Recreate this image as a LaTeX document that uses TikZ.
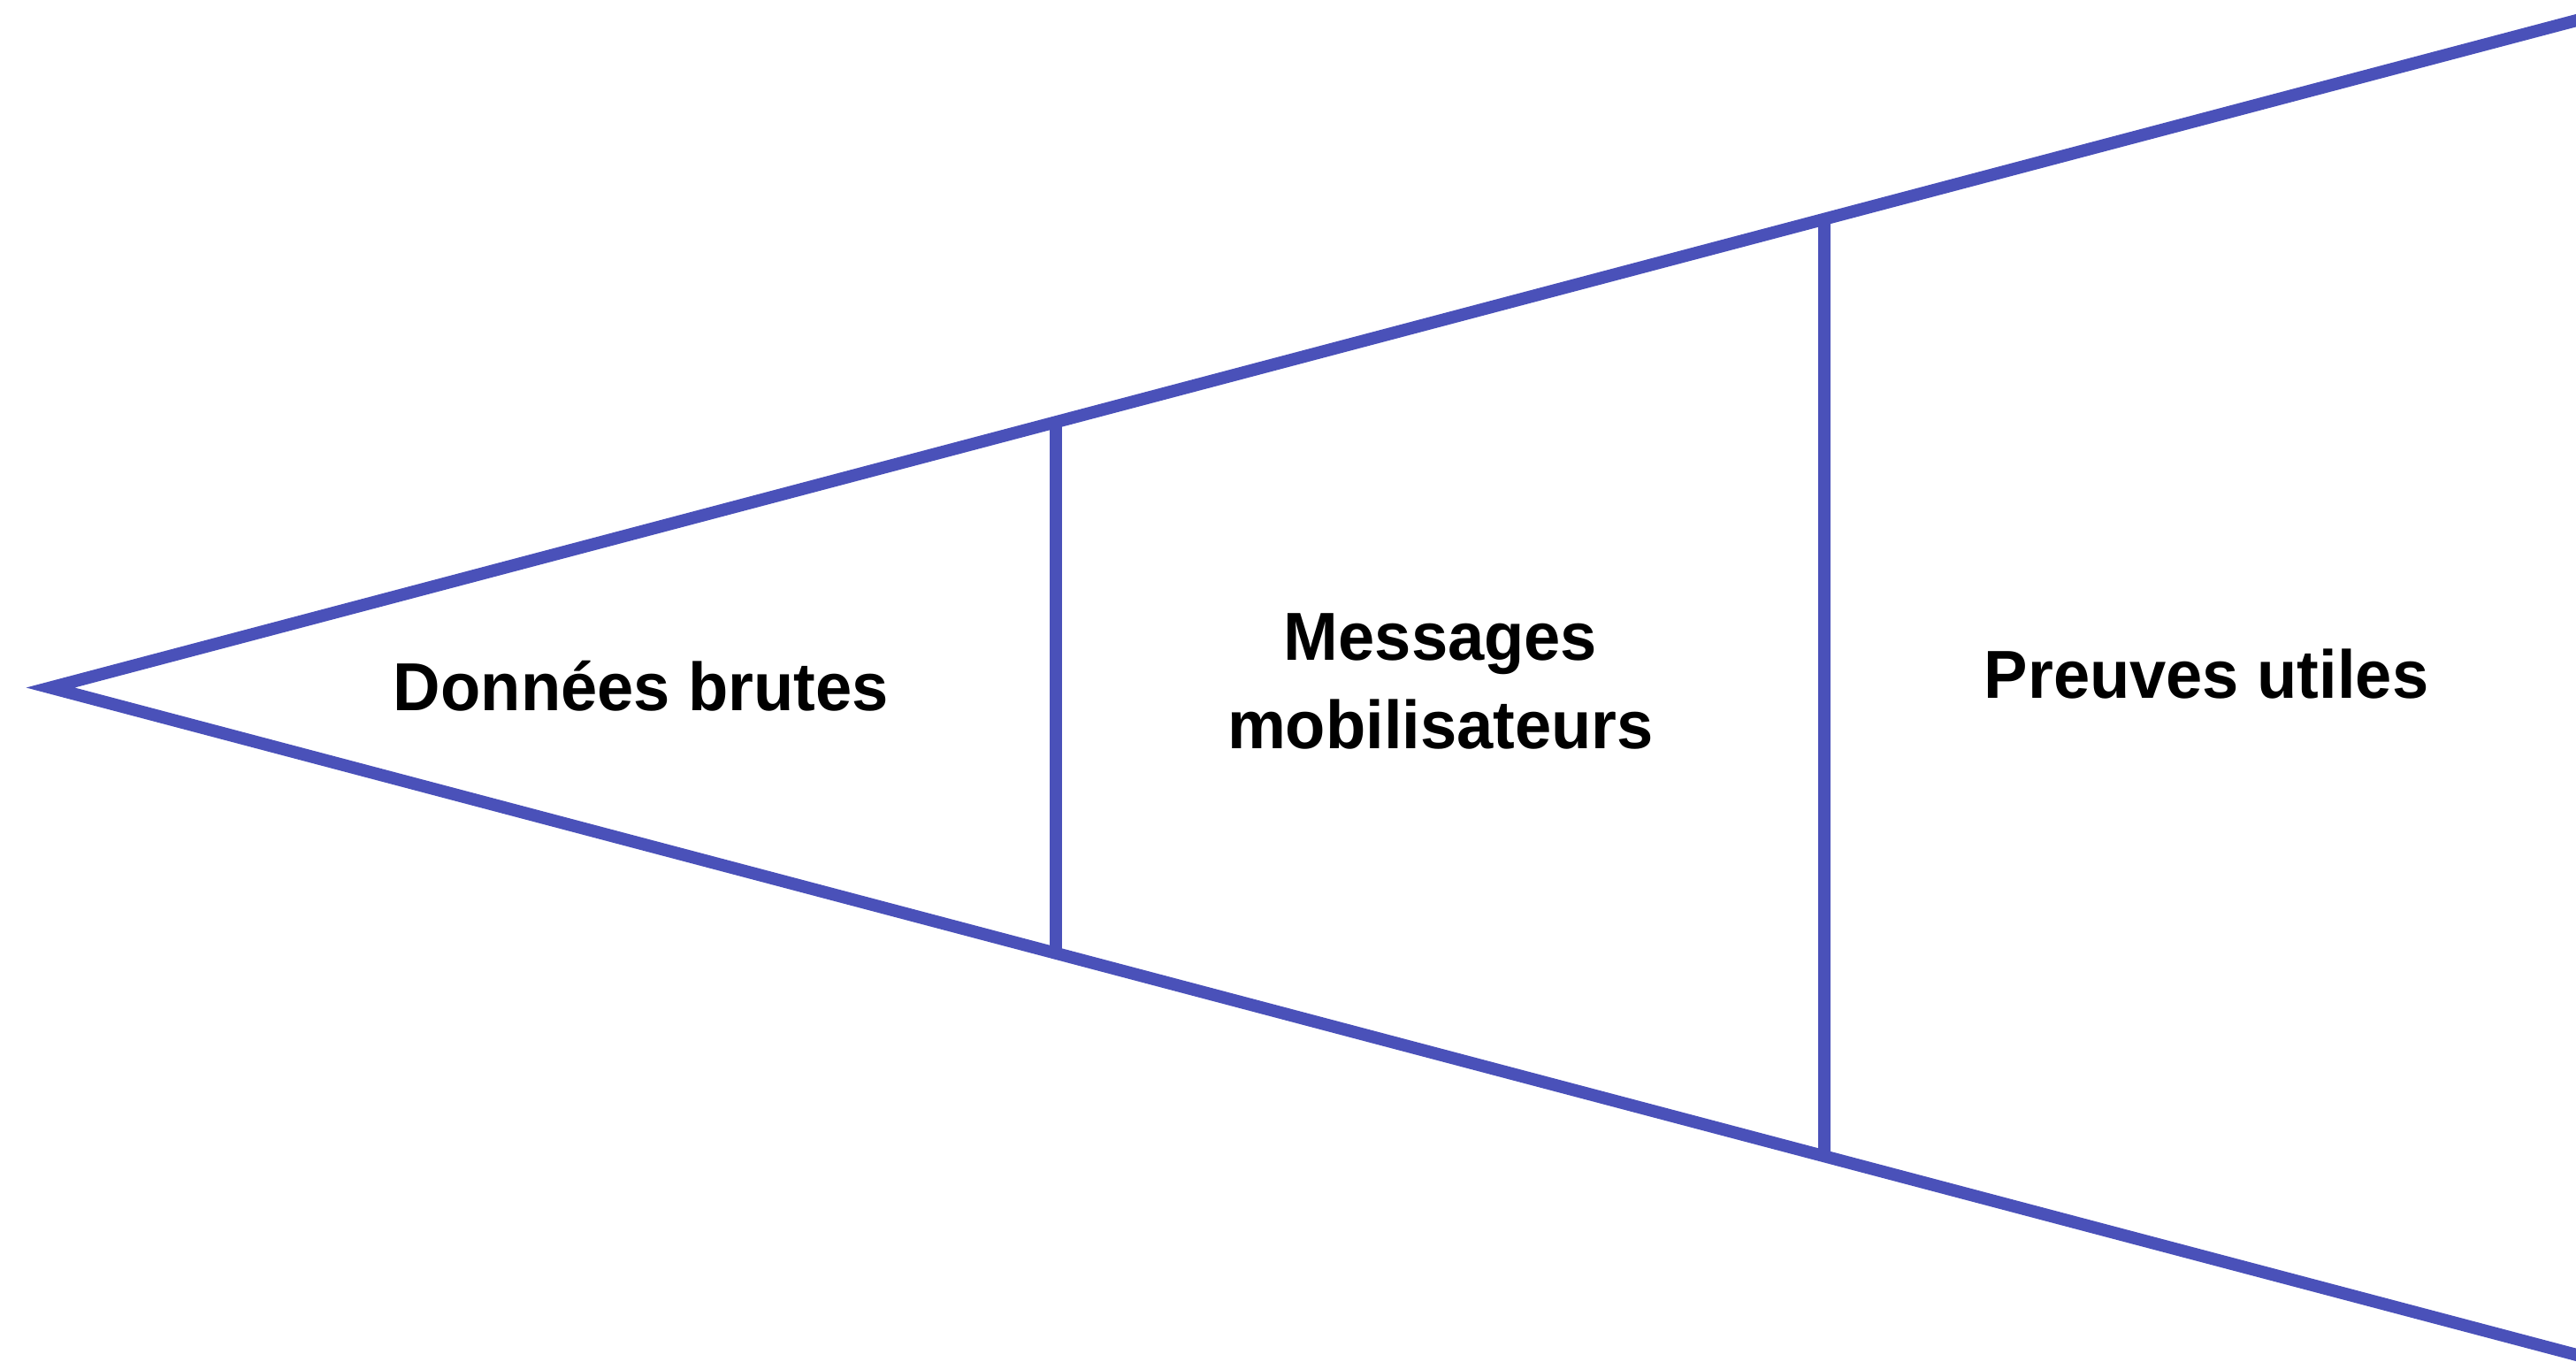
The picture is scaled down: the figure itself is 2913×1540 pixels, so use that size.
\documentclass[tikz,border=0pt]{standalone}
\usepackage{fontspec}
\setmainfont{Liberation Sans}[FakeStretch=0.965]
\definecolor{funnel}{RGB}{74,81,185}
\begin{document}
\begin{tikzpicture}[x=0.5pt,y=-0.5pt,
  funnelline/.style={draw=funnel,line width=7pt,line join=miter,miter limit=10},
  label/.style={font=\fontsize{38.4pt}{49.5pt}\selectfont\bfseries,text=black,anchor=base,inner sep=0pt}]
\useasboundingbox (0,0) rectangle (2913,1540);
\coordinate (A) at (57,777.5);
\coordinate (T) at (2960,10.8);
\coordinate (B) at (2960,1544.2);
\coordinate (v1t) at (1194,477);
\coordinate (v1b) at (1194,1078);
\coordinate (v2t) at (2063,247.7);
\coordinate (v2b) at (2063,1307.3);
\draw[funnelline] (T) -- (A) -- (B);
\draw[funnelline] (v1t) -- (v1b);
\draw[funnelline] (v2t) -- (v2b);
\node[label] (d) at (725,803) {Données brutes};
\node[label] (m1) at (1629,746) {Messages};
\node[label] (m2) at (1629,846) {mobilisateurs};
\node[label] (p) at (2495,789) {Preuves utiles};
\end{tikzpicture}
\end{document}
